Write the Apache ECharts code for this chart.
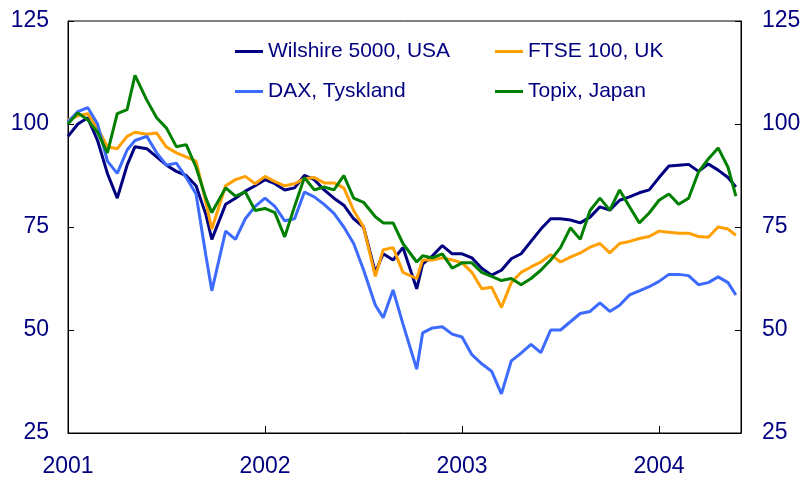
<!DOCTYPE html>
<html lang="no">

<head>
    <meta charset="utf-8">
    <title>Aksjeindekser</title>
    <script src="https://cdn.jsdelivr.net/npm/echarts@6/dist/echarts.min.js"></script>
    <style>
        html,
        body {
            margin: 0;
            padding: 0;
            background-color: #ffffff;
        }

        #chart {
            width: 806px;
            height: 480px;
        }
    </style>
</head>

<body>
    <div id="chart"></div>
    <script>

        // tid i desimalår, ca. hver 2.5 uke (noen punkter flyttet til bunn/topp)
        var dates = [
            2001.00, 2001.05, 2001.10, 2001.15, 2001.20, 2001.25, 2001.30, 2001.34, 2001.40, 2001.45,
            2001.50, 2001.55, 2001.60, 2001.65, 2001.70, 2001.73, 2001.80, 2001.85, 2001.90, 2001.95,
            2002.00, 2002.05, 2002.10, 2002.15, 2002.20, 2002.25, 2002.30, 2002.35, 2002.40, 2002.45,
            2002.50, 2002.56, 2002.60, 2002.65, 2002.70, 2002.77, 2002.80, 2002.85, 2002.90, 2002.95,
            2003.00, 2003.05, 2003.10, 2003.15, 2003.20, 2003.25, 2003.30, 2003.35, 2003.40, 2003.45,
            2003.50, 2003.55, 2003.60, 2003.65, 2003.70, 2003.75, 2003.80, 2003.85, 2003.90, 2003.95,
            2004.00, 2004.05, 2004.10, 2004.15, 2004.20, 2004.25, 2004.30, 2004.35, 2004.39
        ];

        var wilshire = [
            97, 100, 101.5, 96, 88, 82, 90, 94.5, 94, 92,
            90, 88.5, 87.5, 85, 78, 72, 80.5, 82, 83.7, 85,
            86.5, 85.5, 84, 84.5, 87.5, 86.5, 84, 82, 80.3, 77,
            75, 64, 68.5, 67, 70, 60, 66, 68, 70.5, 68.5,
            68.5, 67.5, 65, 63.3, 64.5, 67.3, 68.5, 71.5, 74.5, 77,
            77, 76.7, 76, 77.4, 79.9, 79.1, 81.5, 82.3, 83.3, 84,
            87, 89.8, 90, 90.2, 88.5, 90.3, 88.8, 87, 84.7
        ];

        var ftse = [
            101, 102, 102.5, 99, 94.5, 94, 97, 98, 97.5, 97.8,
            94.4, 93, 92, 91, 81, 74.5, 85, 86.5, 87.3, 85.5,
            87.3, 86, 85, 85.5, 86.7, 87, 85.7, 85.7, 84.5, 79,
            75, 63, 69.5, 70, 64, 62.5, 67, 67, 67.5, 67,
            66.3, 64, 60, 60.4, 55.5, 61.5, 64, 65.3, 66.5, 68.3,
            66.5, 67.7, 68.7, 70.1, 71, 68.7, 71, 71.5, 72.2, 72.7,
            74, 73.7, 73.5, 73.5, 72.7, 72.5, 75, 74.5, 73
        ];

        var dax = [
            100.5, 103, 104, 100, 91, 88, 93.7, 96, 97, 93,
            90, 90.5, 87, 83, 68, 59.5, 74, 72, 77, 80,
            82, 80, 76.5, 77, 83.5, 82.3, 80.5, 78.3, 75, 71,
            64.6, 56, 53, 59.7, 51.5, 40.5, 49.3, 50.5, 50.8, 49,
            48.3, 44, 41.8, 40, 34.5, 42.5, 44.4, 46.5, 44.5, 50,
            50, 52, 54, 54.5, 56.6, 54.5, 56, 58.5, 59.5, 60.5,
            61.8, 63.5, 63.5, 63.2, 61, 61.5, 62.9, 61.5, 58.5
        ];

        var topix = [
            100, 102.7, 101, 98, 93, 102.5, 103.5, 111.8, 105.8, 101.5,
            99, 94.5, 95, 89.5, 82, 78.5, 84.5, 82.5, 83.5, 79,
            79.5, 78.5, 72.6, 80, 87, 84, 84.7, 84, 87.5, 82,
            81, 77.5, 76, 76, 71, 66.5, 68, 67.5, 68.5, 65,
            66.3, 66.3, 64, 63, 62, 62.5, 61, 62.5, 64.5, 67,
            70, 74.8, 72, 79, 82, 79.1, 84, 79.9, 76, 78.4,
            81.5, 83, 80.5, 82, 88.3, 91.5, 94.2, 89.5, 82.5
        ];

        var names = ['Wilshire 5000, USA', 'FTSE 100, UK', 'DAX, Tyskland', 'Topix, Japan'];
        var colors = ['#000080', '#FFA000', '#3D6BFF', '#008000'];
        var values = [wilshire, ftse, dax, topix];

        var textColor = '#000080';
        var font = 'Liberation Sans, Arial, sans-serif';

        function pairs(vals) {
            return dates.map(function (t, i) { return [t, vals[i]]; });
        }

        // en legend per serie, plassert i to rader
        var legendPos = [[235, 41], [495, 41], [235, 81], [495, 81]];
        var legends = names.map(function (n, i) {
            return {
                data: [n],
                left: legendPos[i][0],
                top: legendPos[i][1],
                padding: 0,
                icon: 'rect',
                itemWidth: 28,
                itemHeight: 3,
                selectedMode: false,
                textStyle: { color: textColor, fontSize: 21, fontFamily: font }
            };
        });

        var series = names.map(function (n, i) {
            return {
                name: n,
                type: 'line',
                data: pairs(values[i]),
                showSymbol: false,
                color: colors[i],
                lineStyle: { width: 3, color: colors[i] }
            };
        });

        function yAxis(pos, margin) {
            return {
                type: 'value',
                position: pos,
                min: 25,
                max: 125,
                interval: 25,
                axisLine: { show: true, lineStyle: { color: '#000', width: 1 } },
                axisTick: { show: true, inside: true, length: 6, lineStyle: { color: '#000' } },
                splitLine: { show: false },
                axisLabel: { color: textColor, fontSize: 23, fontFamily: font, margin: margin }
            };
        }

        var chart = echarts.init(document.getElementById('chart'));
        chart.setOption({
            animation: false,
            backgroundColor: '#ffffff',
            grid: {
                left: 68,
                right: 65,
                top: 21,
                bottom: 47,
                show: true,
                borderColor: '#000',
                borderWidth: 1,
                containLabel: false
            },
            legend: legends,
            xAxis: {
                type: 'value',
                min: 2001,
                max: 2004.416,
                interval: 1,
                axisLine: { show: true, lineStyle: { color: '#000', width: 1 } },
                axisTick: { show: true, inside: true, length: 7, lineStyle: { color: '#000' } },
                splitLine: { show: false },
                axisLabel: {
                    color: textColor,
                    fontSize: 23,
                    fontFamily: font,
                    margin: 22,
                    showMaxLabel: false,
                    formatter: function (v) {
                        return Math.abs(v - Math.round(v)) < 1e-6 ? String(Math.round(v)) : '';
                    }
                }
            },
            yAxis: [yAxis('left', 19), yAxis('right', 21)],
            series: series
        });

    </script>
</body>

</html>
